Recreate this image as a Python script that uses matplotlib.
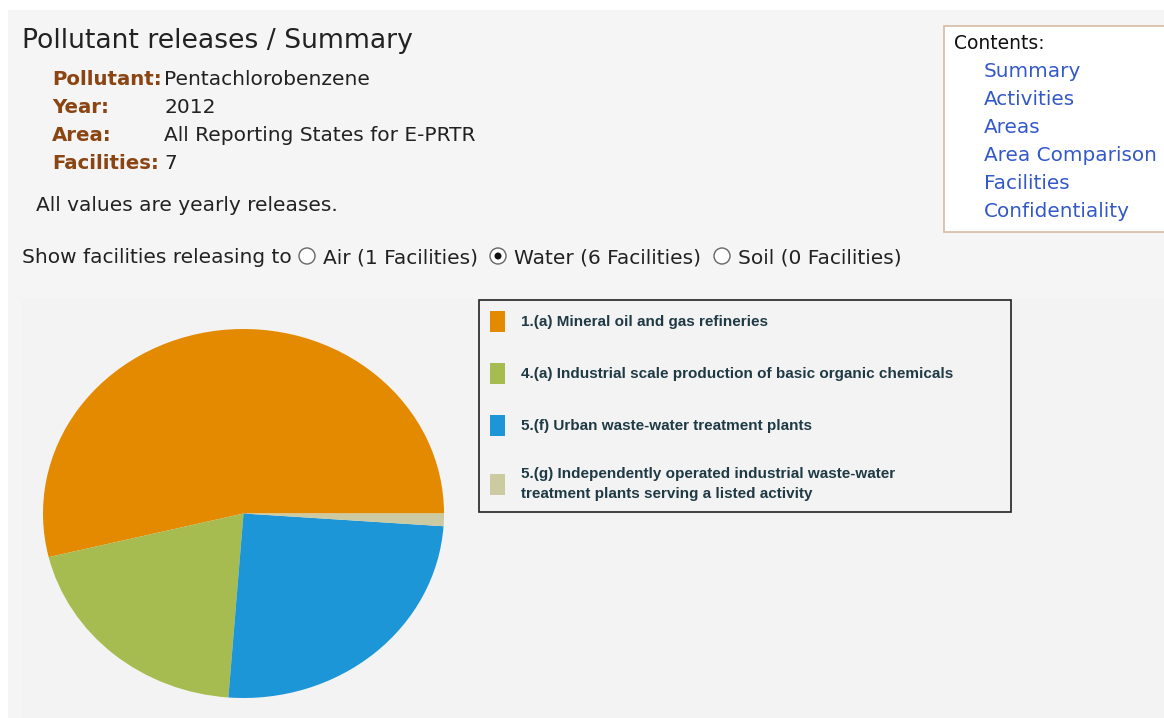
import matplotlib
matplotlib.use('Agg')
import matplotlib.pyplot as plt
from matplotlib.patches import Rectangle, Ellipse

# header info
title = 'Pollutant releases / Summary'
info_labels = ['Pollutant:', 'Year:', 'Area:', 'Facilities:']
info_values = ['Pentachlorobenzene', '2012', 'All Reporting States for E-PRTR', '7']
note = 'All values are yearly releases.'
contents = ['Summary', 'Activities', 'Areas', 'Area Comparison', 'Facilities', 'Confidentiality']
media = ['Air (1 Facilities)', 'Water (6 Facilities)', 'Soil (0 Facilities)']
selected_medium = 1

# pie data (share of releases to water, %)
activities = ['1.(a) Mineral oil and gas refineries',
              '4.(a) Industrial scale production of basic organic chemicals',
              '5.(f) Urban waste-water treatment plants',
              '5.(g) Independently operated industrial waste-water\ntreatment plants serving a listed activity']
shares = [53.8, 20.0, 25.1, 1.1]
colors = ['#e38a00', '#a6bc50', '#1d96d8', '#cccaa0']

W, H = 1164, 718


def fx(x):
    return x / W


def fy(y):
    return 1 - y / H


fig = plt.figure(figsize=(W / 100, H / 100), dpi=100, facecolor='white')
plt.rcParams['font.family'] = ['DejaVu Sans']
body = 14.5

# page backgrounds
fig.add_artist(Rectangle((fx(8), fy(H)), fx(W - 8), 1 - 10 / H, transform=fig.transFigure,
                         facecolor='#f5f5f5', edgecolor='none', zorder=0))
fig.add_artist(Rectangle((fx(21), fy(H)), fx(W - 21), (H - 298) / H, transform=fig.transFigure,
                         facecolor='#f3f3f3', edgecolor='none', zorder=0))

fig.text(fx(22), fy(48), title, fontsize=19.2, color='#222222', va='baseline')
for i, (lab, val) in enumerate(zip(info_labels, info_values)):
    yb = fy(85 + i * 28)
    fig.text(fx(52), yb, lab, fontsize=body - 0.3, fontweight='bold', color='#8b4513', va='baseline')
    fig.text(fx(164), yb, val, fontsize=body, color='#222222', va='baseline')
fig.text(fx(36), fy(211), note, fontsize=body, color='#222222', va='baseline')

# media radio buttons
fig.text(fx(22), fy(263), 'Show facilities releasing to', fontsize=body, color='#222222', va='baseline')
radio_x = [307, 498, 722]
for i, (rx, lab) in enumerate(zip(radio_x, media)):
    fig.add_artist(Ellipse((fx(rx), fy(256)), 16 / W, 16 / H, transform=fig.transFigure,
                           facecolor='white', edgecolor='#666666', lw=1))
    if i == selected_medium:
        fig.add_artist(Ellipse((fx(rx), fy(256)), 7 / W, 7 / H, transform=fig.transFigure,
                               facecolor='#111111', edgecolor='none'))
    fig.text(fx(rx + 16), fy(263), lab, fontsize=body, color='#222222', va='baseline')

# contents box
fig.add_artist(Rectangle((fx(944), fy(232)), fx(W - 944 + 5), 206 / H, transform=fig.transFigure,
                         facecolor='white', edgecolor='#d8b9a3', lw=1.2))
fig.text(fx(954), fy(49), 'Contents:', fontsize=13.5, color='#111111', va='baseline')
for i, c in enumerate(contents):
    fig.text(fx(984), fy(77 + i * 28), c, fontsize=body - 0.1, color='#3358c8', va='baseline')

# pie
ax = fig.add_axes([fx(43), fy(698), fx(401), 369 / H])
wedges, _ = ax.pie(shares, colors=colors, startangle=0, counterclock=True,
                   wedgeprops=dict(linewidth=0))
ax.set_aspect('auto')
ax.set_xlim(-1, 1)
ax.set_ylim(-1, 1)
ax.axis('off')

fs = 11
fsp = fs / 0.72
leg = fig.legend(wedges, activities, loc='upper left',
                 bbox_to_anchor=(fx(479), fy(300), fx(532), 0), mode='expand',
                 borderaxespad=0, borderpad=0.7, fancybox=False, frameon=True,
                 edgecolor='#222222', facecolor='#f3f3f3', framealpha=1,
                 prop={'family': 'Liberation Sans', 'weight': 'bold', 'size': fs},
                 handlelength=15 / fsp, handleheight=1.74, handletextpad=16 / fsp,
                 labelspacing=2.03)
leg.get_frame().set_linewidth(1.2)
for t in leg.get_texts():
    t.set_color('#1f3a45')
    t.set_linespacing(1.55)

fig.savefig('out.png', dpi=100, facecolor=fig.get_facecolor())
